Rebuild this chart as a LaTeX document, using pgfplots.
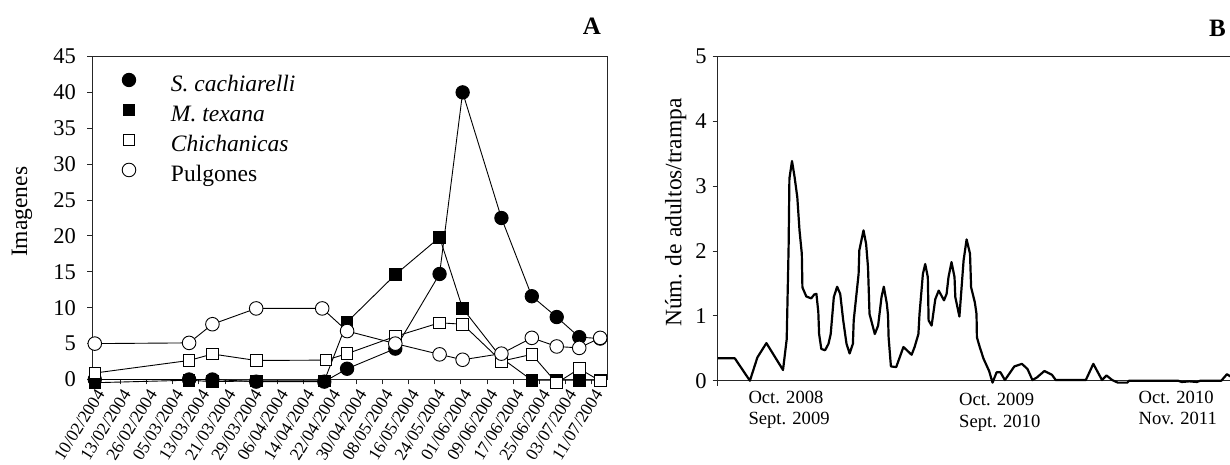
\documentclass[border=0pt]{standalone}
\usepackage{fontspec}
\setmainfont{Liberation Serif}
\usepackage{pgfplots}
\pgfplotsset{compat=1.18}

\begin{document}
\begin{tikzpicture}[x=1bp,y=1bp]
\useasboundingbox (0,0) rectangle (1230,465);

% ---------------- Panel A ----------------
\begin{axis}[
  at={(92bp,85.5bp)}, anchor=south west,
  width=515bp, height=323bp, scale only axis,
  xmin=-0.076, xmax=19.58, ymin=0, ymax=45,
  clip=false,
  axis line style={black!85, line width=0.9bp},
  tick style={black!85, line width=0.9bp},
  tick pos=left, tick align=outside, major tick length=5bp,
  xtick={0,...,19},
  xticklabels={10/02/2004,13/02/2004,26/02/2004,05/03/2004,13/03/2004,21/03/2004,29/03/2004,06/04/2004,14/04/2004,22/04/2004,30/04/2004,08/05/2004,16/05/2004,24/05/2004,01/06/2004,09/06/2004,17/06/2004,25/06/2004,03/07/2004,11/07/2004},
  ytick={0,5,...,45},
  /pgf/number format/assume math mode=true,
  yticklabel style={font=\fontsize{22.5bp}{27bp}\selectfont, inner sep=0pt, anchor=east, xshift=-11bp},
  xticklabel style={font=\fontsize{17.5bp}{21bp}\selectfont, rotate=58, anchor=east, inner sep=0pt, xshift=-2bp, yshift=-9bp},
  ylabel={Imagenes},
  ylabel style={at={(axis description cs:-0.136,0.519)}, anchor=center, font=\fontsize{23.5bp}{28bp}\selectfont},
  legend style={at={(0.0563,0.953)}, anchor=north west, draw=none, fill=none,
    inner sep=0pt, outer sep=0pt, row sep=0pt,
    font=\fontsize{23.5bp}{28bp}\selectfont,
    nodes={inner xsep=0pt, inner ysep=4bp, text height=16bp, text depth=6bp}},
  legend cell align=left,
  legend image code/.code={\draw[#1] plot[only marks] coordinates {(0bp,6.7bp)}; \path[draw=none,fill=none] (-8bp,-8bp) rectangle (42bp,8bp);},
]
\addplot[black, line width=0.9bp, mark=*, mark size=6.7bp, mark options={solid, fill=black, draw=black}]
  coordinates {(0.03,0) (3.63,0) (4.52,0) (6.19,-0.3) (8.79,-0.3) (9.66,1.5) (11.50,4.3) (13.19,14.7) (14.07,40) (15.55,22.5) (16.71,11.6) (17.66,8.7) (18.52,5.9) (19.32,5.7)};
\addlegendentry{\textit{S. cachiarelli}}
\addplot[black, line width=0.9bp, mark=square*, mark size=5.8bp, mark options={solid, fill=black, draw=black}]
  coordinates {(0.03,-0.45) (3.63,-0.1) (4.52,-0.3) (6.19,-0.2) (8.79,-0.2) (9.66,8.0) (11.50,14.6) (13.19,19.8) (14.07,9.9) (15.55,3.0) (16.71,-0.1) (17.66,-0.1) (18.52,-0.1) (19.32,-0.1)};
\addlegendentry{\textit{M. texana}}
\addplot[black, line width=0.9bp, mark=square*, mark size=5.8bp, mark options={solid, fill=white, draw=black}]
  coordinates {(0.03,0.9) (3.63,2.65) (4.52,3.55) (6.19,2.65) (8.85,2.7) (9.66,3.6) (11.50,6.0) (13.19,7.9) (14.07,7.7) (15.55,2.55) (16.71,3.5) (17.66,-0.5) (18.52,1.5) (19.32,-0.2)};
\addlegendentry{\textit{Chichanicas}}
\addplot[black, line width=0.9bp, mark=*, mark size=6.8bp, mark options={solid, fill=white, draw=black}]
  coordinates {(0.03,5.0) (3.63,5.1) (4.52,7.7) (6.19,9.9) (8.71,9.9) (9.66,6.75) (11.50,5.0) (13.19,3.5) (14.07,2.75) (15.55,3.6) (16.71,5.8) (17.66,4.6) (18.52,4.4) (19.32,5.8)};
\addlegendentry{Pulgones}
\end{axis}

% ---------------- Panel B ----------------
\begin{axis}[
  at={(717.7bp,84.3bp)}, anchor=south west,
  width=522.3bp, height=324bp, scale only axis,
  xmin=717.7, xmax=1240, ymin=0, ymax=5,
  clip=false,
  axis line style={black!85, line width=1.1bp},
  tick style={black!85, line width=1.1bp},
  tick pos=left, tick align=outside, major tick length=5bp,
  xtick={717.7}, xticklabels={},
  ytick={0,...,5},
  /pgf/number format/assume math mode=true,
  yticklabel style={font=\fontsize{22.5bp}{27bp}\selectfont, inner sep=0pt, anchor=east, xshift=-6bp},
  ylabel={Núm. de adultos/trampa},
  ylabel style={at={(axis description cs:-0.0804,0.519)}, anchor=center, font=\fontsize{23.5bp}{28bp}\selectfont},
]
\addplot[black, line width=2.2bp, line join=round, mark=none] coordinates {
(717.9,0.345) (734.8,0.345) (749.9,0) (757.4,0.36) (766.4,0.58) (783.0,0.165) (786.7,0.64) (788.6,2.06) (789.4,3.12) (792.0,3.39) (794.6,3.14) (797.3,2.83) (799.5,2.32) (801.8,1.96) (802.4,1.44) (806.3,1.30) (811.2,1.27) (814.2,1.33) (816.4,1.34) (818.3,1.06) (819.1,0.72) (821.3,0.49) (825.1,0.47) (828.5,0.57) (830.7,0.72) (833.8,1.29) (837.1,1.45) (840.2,1.34) (843.2,0.93) (846.5,0.57) (849.6,0.42) (852.9,0.57) (853.7,0.93) (858.6,1.65) (859.3,2.01) (863.5,2.32) (866.1,2.11) (868.0,1.75) (869.5,1.03) (874.8,0.72) (878.1,0.85) (881.5,1.29) (883.8,1.45) (886.8,1.19) (888.0,1.01) (888.6,0.67) (890.9,0.22) (896.2,0.21) (903.4,0.52) (911.6,0.40) (914.6,0.52) (918.4,0.72) (919.5,1.03) (922.9,1.65) (925.2,1.80) (927.8,1.60) (928.6,0.93) (931.6,0.85) (933.5,1.06) (935.3,1.26) (938.7,1.39) (944.0,1.24) (946.6,1.34) (948.5,1.60) (951.5,1.83) (954.5,1.60) (955.3,1.29) (959.4,0.99) (963.6,1.86) (966.6,2.18) (970.0,1.96) (971.1,1.44) (974.8,1.21) (976.5,1.03) (976.9,0.67) (979.7,0.52) (983.5,0.34) (989.1,0.15) (992.5,-0.03) (996.6,0.13) (1000.4,0.13) (1004.9,0.01) (1014.3,0.22) (1021.9,0.26) (1027.5,0.18) (1032.4,0.01) (1036.9,0.05) (1044.4,0.15) (1052.0,0.09) (1055.7,0.01) (1085.8,0.01) (1093.3,0.26) (1102.0,0.01) (1106.5,0.08) (1112.2,0.01) (1117.8,-0.03) (1127.2,-0.03) (1129.1,0) (1178.0,0) (1181.8,-0.02) (1189.3,-0.01) (1196.8,-0.02) (1200.6,0) (1221.3,0) (1226.9,0.1) (1232,0.05)
};
\end{axis}

% ---------------- Texts ----------------
\node[font=\bfseries\fontsize{25bp}{30bp}\selectfont] at (592,438.5) {A};
\node[font=\bfseries\fontsize{25bp}{30bp}\selectfont] at (1217.5,437) {B};
\begin{scope}[every node/.style={anchor=base west, inner sep=0pt, font=\fontsize{18.6bp}{22bp}\selectfont}]
\node at (748.3,61.7) {Oct. 2008};
\node at (748.3,40.7) {Sept. 2009};
\node at (959,59) {Oct. 2009};
\node at (959,37.3) {Sept. 2010};
\node at (1138.5,61) {Oct. 2010};
\node at (1138.5,40) {Nov. 2011};
\end{scope}
\end{tikzpicture}
\end{document}
